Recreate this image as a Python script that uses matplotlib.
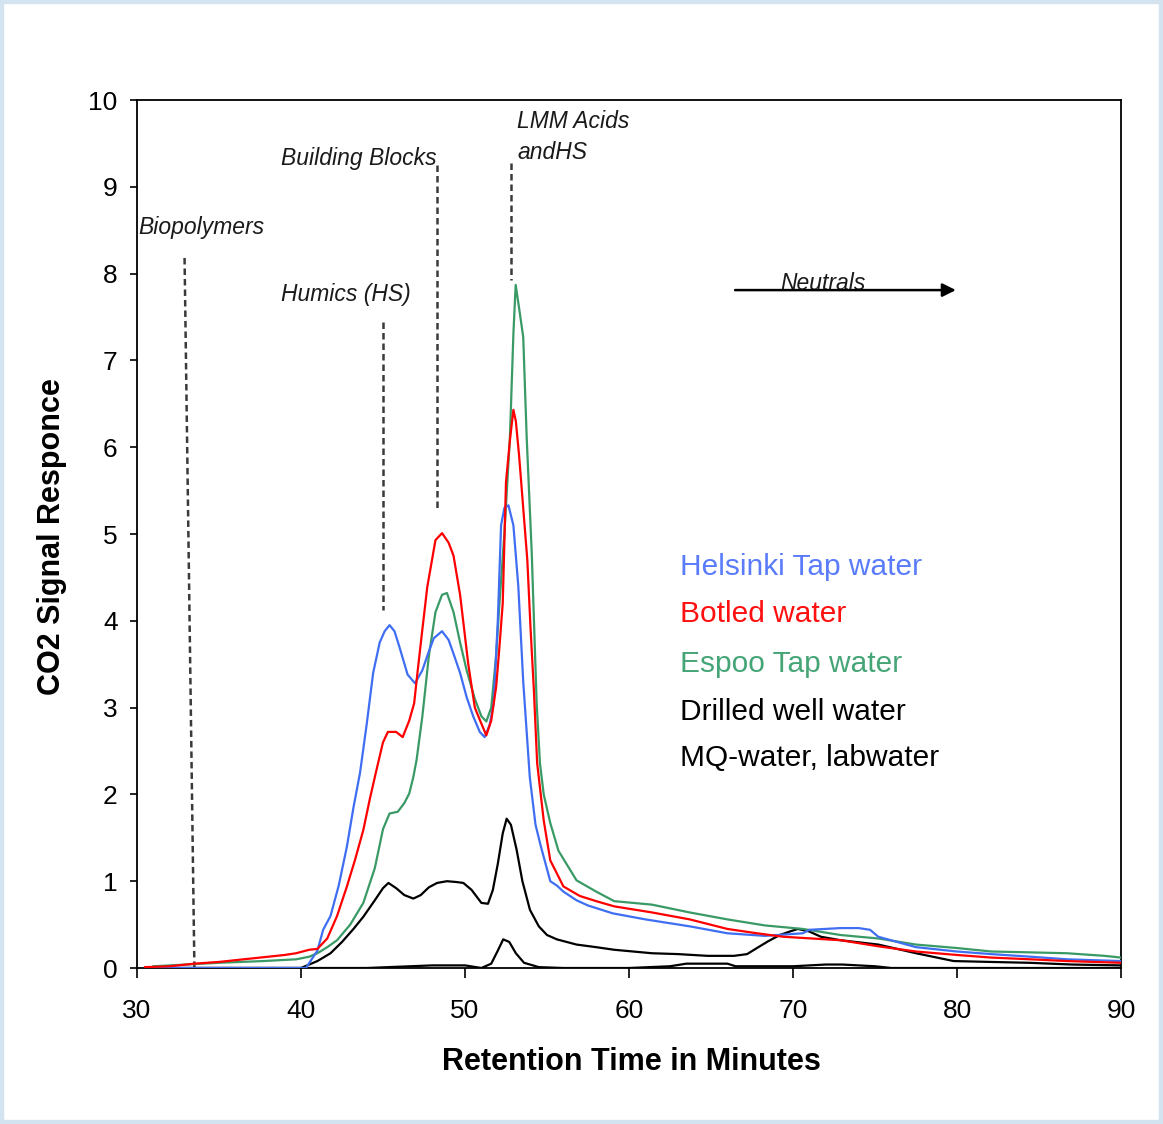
import matplotlib
matplotlib.use("Agg")
import matplotlib.pyplot as plt
from matplotlib.patches import Rectangle

plt.rcParams['font.family'] = ['Liberation Sans', 'DejaVu Sans']

# ---------------- data ----------------
helsinki_x = [30.5, 40.3, 41.0, 41.35, 41.8, 42.3, 42.8, 43.2, 43.6, 44.0, 44.4, 44.8, 45.1, 45.4, 45.7,
              46.0, 46.5, 46.95, 47.4, 47.8, 48.1, 48.6, 49.0, 49.3, 49.7, 50.1, 50.5, 50.9, 51.2, 51.5,
              51.75, 52.0, 52.2, 52.4, 52.65, 52.95, 53.25, 53.55, 53.95, 54.3, 54.6, 55.2, 55.6, 56.0,
              56.8, 57.5, 59.0, 61.0, 63.7, 66.0, 68.3, 70.6, 71.0, 72.9, 74.0, 74.7, 75.2, 77.5, 80.0,
              82.1, 84.5, 86.7, 90.0]
helsinki_y = [0, 0, 0.2, 0.44, 0.6, 0.95, 1.4, 1.85, 2.25, 2.8, 3.4, 3.75, 3.88, 3.95, 3.88,
              3.7, 3.38, 3.28, 3.43, 3.65, 3.8, 3.88, 3.78, 3.62, 3.4, 3.12, 2.9, 2.72, 2.66, 2.8,
              3.05, 4.0, 5.1, 5.3, 5.33, 5.1, 4.4, 3.3, 2.2, 1.65, 1.42, 1.0, 0.95, 0.88,
              0.78, 0.72, 0.63, 0.56, 0.48, 0.40, 0.37, 0.40, 0.44, 0.46, 0.46, 0.44, 0.36, 0.24, 0.19,
              0.16, 0.13, 0.10, 0.08]

botled_x = [30.5, 32.0, 33.5, 35.0, 36.5, 38.0, 39.0, 39.7, 40.5, 41.0, 41.6, 42.2, 42.8, 43.3, 43.8,
            44.2, 44.6, 45.0, 45.3, 45.8, 46.2, 46.6, 46.9, 47.1, 47.4, 47.7, 48.2, 48.6, 49.0, 49.3,
            49.7, 50.2, 50.6, 50.9, 51.3, 51.6, 51.9, 52.1, 52.3, 52.5, 52.75, 52.95, 53.1, 53.3, 53.55,
            53.8, 54.0, 54.2, 54.4, 54.8, 55.2, 56.0, 57.0, 58.0, 59.1, 61.4, 63.7, 66.0, 67.8, 69.4,
            72.9, 75.2, 77.5, 80.0, 82.1, 84.5, 86.7, 90.0]
botled_y = [0.01, 0.02, 0.05, 0.07, 0.1, 0.13, 0.15, 0.17, 0.21, 0.22, 0.34, 0.6, 0.94, 1.25, 1.59,
            1.95, 2.28, 2.6, 2.72, 2.72, 2.66, 2.85, 3.05, 3.4, 3.9, 4.39, 4.93, 5.01, 4.9, 4.75,
            4.3, 3.5, 3.0, 2.86, 2.68, 2.85, 3.24, 3.7, 4.2, 5.6, 6.1, 6.43, 6.3, 5.9, 5.3,
            4.7, 3.9, 3.2, 2.36, 1.7, 1.24, 0.94, 0.83, 0.77, 0.71, 0.64, 0.56, 0.45, 0.40, 0.36,
            0.32, 0.25, 0.19, 0.15, 0.12, 0.10, 0.08, 0.06]

espoo_x = [31.0, 33.0, 35.0, 37.7, 39.7, 40.5, 41.0, 41.6, 42.2, 43.0, 43.8, 44.5, 45.0, 45.4, 45.9,
           46.3, 46.6, 46.85, 47.05, 47.4, 47.8, 48.2, 48.6, 48.9, 49.3, 49.7, 50.1, 50.6, 51.0, 51.3,
           51.6, 51.9, 52.1, 52.4, 52.74, 52.95, 53.09, 53.3, 53.55, 53.76, 54.07, 54.37, 54.57, 54.8,
           55.2, 55.7, 56.8, 58.0, 59.1, 61.4, 63.7, 66.0, 68.3, 70.6, 72.9, 75.2, 77.5, 80.0, 82.1,
           84.5, 86.7, 89.0, 90.0]
espoo_y = [0.02, 0.04, 0.06, 0.08, 0.10, 0.13, 0.17, 0.24, 0.32, 0.5, 0.75, 1.15, 1.6, 1.78, 1.8,
           1.9, 2.01, 2.2, 2.4, 2.9, 3.6, 4.1, 4.3, 4.32, 4.1, 3.75, 3.43, 3.1, 2.9, 2.84,
           3.0, 3.6, 4.2, 5.0, 6.12, 7.3, 7.87, 7.6, 7.27, 6.12, 4.78, 3.05, 2.36, 2.0,
           1.67, 1.35, 1.01, 0.88, 0.77, 0.73, 0.64, 0.56, 0.49, 0.45, 0.38, 0.34, 0.27, 0.23, 0.19,
           0.18, 0.17, 0.14, 0.12]

drilled_x = [30.5, 40.0, 40.5, 41.0, 41.8, 42.5, 43.2, 43.8, 44.5, 45.0, 45.33, 45.8, 46.3, 46.85, 47.3,
             47.8, 48.3, 48.9, 49.5, 49.9, 50.4, 51.0, 51.4, 51.7, 52.0, 52.3, 52.54, 52.8, 53.15, 53.5,
             53.96, 54.5, 55.0, 55.6, 56.8, 58.0, 59.1, 61.4, 63.0, 64.8, 66.4, 67.2, 67.8, 68.5, 69.2,
             69.8, 70.3, 71.0, 71.7, 72.9, 75.2, 77.5, 79.8, 82.0, 84.4, 87.0, 90.0]
drilled_y = [0, 0, 0.04, 0.08, 0.17, 0.3, 0.45, 0.59, 0.78, 0.92, 0.98, 0.92, 0.84, 0.8, 0.84,
             0.93, 0.98, 1.0, 0.99, 0.98, 0.9, 0.75, 0.74, 0.9, 1.2, 1.55, 1.72, 1.65, 1.36, 1.0,
             0.67, 0.48, 0.38, 0.33, 0.27, 0.24, 0.21, 0.17, 0.16, 0.14, 0.14, 0.16, 0.23, 0.31, 0.38,
             0.42, 0.45, 0.42, 0.36, 0.32, 0.27, 0.17, 0.08, 0.07, 0.06, 0.04, 0.03]

mq_x = [30.5, 44.0, 48.0, 50.0, 51.0, 51.6, 52.0, 52.33, 52.7, 53.1, 53.6, 54.5, 56.0, 60.0, 62.5,
        63.5, 66.0, 66.5, 70.0, 72.0, 73.0, 75.0, 76.0, 90.0]
mq_y = [0, 0, 0.03, 0.03, 0.0, 0.05, 0.2, 0.33, 0.3, 0.17, 0.06, 0.01, 0.0, 0.0, 0.02,
        0.05, 0.05, 0.02, 0.02, 0.04, 0.04, 0.02, 0.0, 0.0]

series_names = ["Helsinki Tap water", "Botled water", "Espoo Tap water",
                "Drilled well water", "MQ-water, labwater"]

# fraction markers (dashed guides): x at top, x at bottom, y top, y bottom
guide_x_top = [32.9, 45.0, 48.3, 52.8]
guide_x_bot = [33.5, 45.0, 48.3, 52.8]
guide_y_top = [8.18, 7.44, 9.25, 9.27]
guide_y_bot = [0.0, 4.12, 5.28, 7.93]

# ---------------- figure ----------------
fig = plt.figure(figsize=(11.63, 11.24), dpi=100)
ax = fig.add_axes([137/1163, 156/1124, (1121-137)/1163, (968-100)/1124])

line_blue = '#3f6ef2'
line_red = '#ff0000'
line_green = '#3a9a66'
lw = 1.6

ax.plot(mq_x, mq_y, color='black', lw=lw, zorder=3)
ax.plot(drilled_x, drilled_y, color='black', lw=lw, zorder=3)
ax.plot(espoo_x, espoo_y, color=line_green, lw=lw, zorder=4)
ax.plot(botled_x, botled_y, color=line_red, lw=lw, zorder=5)
ax.plot(helsinki_x, helsinki_y, color=line_blue, lw=lw, zorder=4)

for xt, xb, yt, yb in zip(guide_x_top, guide_x_bot, guide_y_top, guide_y_bot):
    ax.plot([xt, xb], [yt, yb], color='#3a3a3a', lw=1.8, linestyle=(0, (2.6, 1.6)), zorder=2)

ax.set_xlim(30, 90)
ax.set_ylim(0, 10)
ax.set_xticks(range(30, 91, 10))
ax.set_yticks(range(0, 11, 1))
ax.tick_params(axis='x', direction='out', length=7, width=1.2, pad=15, labelsize=19)
ax.tick_params(axis='y', direction='out', length=5, width=1.2, pad=9, labelsize=19)
for s in ax.spines.values():
    s.set_linewidth(1.3)
    s.set_color('black')

ax.set_xlabel("Retention Time in Minutes", fontsize=22, fontweight='bold')
ax.set_ylabel("CO2 Signal Responce", fontsize=22, fontweight='bold')
ax.xaxis.label.set_va('center')
ax.yaxis.label.set_va('center')
ax.xaxis.set_label_coords(0.502, -0.108)
ax.yaxis.set_label_coords(-0.0864, 0.497)

ann = dict(fontsize=16.5, style='italic', color='#1a1a1a', va='center', ha='left')
ax.text(30.05, 8.53, "Biopolymers", **ann)
ax.text(38.78, 9.33, "Building Blocks", **ann)
ax.text(38.78, 7.76, "Humics (HS)", **ann)
ax.text(53.2, 9.75, "LMM Acids", **ann)
ax.text(53.2, 9.40, "andHS", **ann)
ax.text(71.8, 7.89, "Neutrals", fontsize=16.5, style='italic', color='#1a1a1a', va='center', ha='center')
ax.annotate("", xy=(80.1, 7.81), xytext=(66.3, 7.81),
            arrowprops=dict(arrowstyle='-|>', color='black', lw=1.8, mutation_scale=20))

legend_colors = ['#5a7cfb', '#ff1010', '#46a577', '#000000', '#000000']
legend_y = [4.62, 4.08, 3.50, 2.95, 2.42]
for name, c, yy in zip(series_names, legend_colors, legend_y):
    ax.text(63.11, yy, name, fontsize=21.5, color=c, va='center', ha='left')

fig.patches.append(Rectangle((0, 0), 1, 1, transform=fig.transFigure, fill=False,
                             edgecolor='#d3e3f0', linewidth=6, zorder=10))

fig.savefig("out.png", dpi=100, facecolor='white')
